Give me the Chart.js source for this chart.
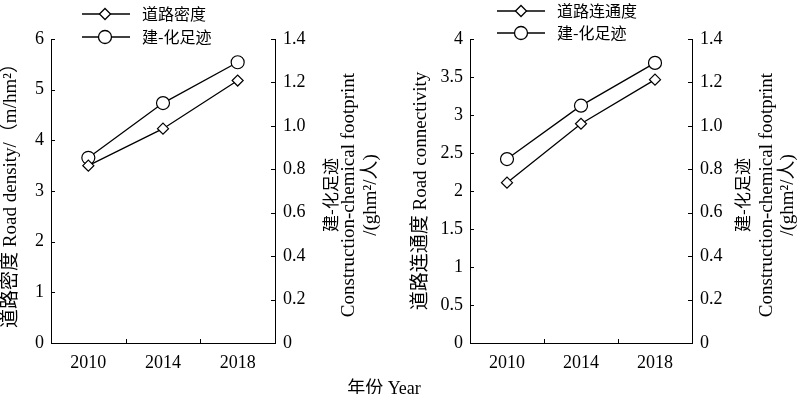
<!DOCTYPE html>
<html>
<head>
<meta charset="utf-8">
<script src="https://cdn.jsdelivr.net/npm/chart.js@4.4.1/dist/chart.umd.min.js"></script>
<style>
  html, body { margin: 0; padding: 0; background: #fff; }
  #wrap { position: relative; width: 800px; height: 394px; overflow: hidden; }
  .box { position: absolute; top: 0; width: 400px; height: 394px; }
  #xtitle {
    position: absolute; left: 0; width: 768px; top: 373px; text-align: center;
    font-family: 'Liberation Serif', 'Noto Sans CJK SC', serif; font-size: 18px; color: #000;
  }
</style>
</head>
<body>
<div id="wrap">
  <div class="box" style="left:0"><canvas id="c1" width="400" height="394"></canvas></div>
  <div class="box" style="left:400px"><canvas id="c2" width="400" height="394"></canvas></div>
  <div id="xtitle">年份 Year</div>
</div>
<script>
// data
const years = ['2010', '2014', '2018'];
const roadDensity = [3.50, 4.23, 5.18];        // m/hm2
const footprintLeft = [0.853, 1.105, 1.293];   // ghm2/人
const roadConnectivity = [2.11, 2.885, 3.465];
const footprintRight = [0.847, 1.093, 1.29];

const densityTicks = [0, 1, 2, 3, 4, 5, 6];
const connectTicks = [0, 0.5, 1, 1.5, 2, 2.5, 3, 3.5, 4];
const footprintTicks = [0, 0.2, 0.4, 0.6, 0.8, 1.0, 1.2, 1.4];

const SERIF = "'Liberation Serif', 'Noto Sans CJK SC', serif";
const CJK = "'Noto Sans CJK SC', sans-serif";

// inward ticks, legend and right-hand title drawn on top of the chart
const extras = {
    id: 'extras',
    afterDraw(chart, args, opts) {
        const {ctx, chartArea: a, scales} = chart;
        ctx.save();
        ctx.strokeStyle = '#000';
        ctx.lineWidth = 1;
        ctx.beginPath();
        scales.y.ticks.forEach(t => {
            const py = Math.round(scales.y.getPixelForValue(t.value)) + 0.5;
            ctx.moveTo(a.left, py); ctx.lineTo(a.left + 4, py);
        });
        scales.y1.ticks.forEach(t => {
            const py = Math.round(scales.y1.getPixelForValue(t.value)) + 0.5;
            ctx.moveTo(a.right - 4, py); ctx.lineTo(a.right, py);
        });
        for (let i = 0; i < years.length - 1; i++) {
            const px = Math.round((scales.x.getPixelForValue(i) + scales.x.getPixelForValue(i + 1)) / 2) + 0.5;
            ctx.moveTo(px, a.bottom); ctx.lineTo(px, a.bottom - 4);
        }
        ctx.stroke();

        // legend
        const lg = opts.legend;
        chart.data.datasets.forEach((ds, i) => {
            const y = lg.rows[i];
            ctx.beginPath();
            ctx.lineWidth = 1.3;
            ctx.moveTo(lg.x0, y); ctx.lineTo(lg.x1, y);
            ctx.stroke();
            ctx.fillStyle = '#fff';
            ctx.strokeStyle = '#000';
            Chart.helpers.drawPoint(ctx, {pointStyle: ds.pointStyle, radius: ds.pointRadius, borderWidth: 1.2}, lg.xm, y);
            ctx.fillStyle = '#000';
            ctx.font = '16px ' + CJK;
            ctx.textAlign = 'left';
            ctx.textBaseline = 'middle';
            ctx.fillText(ds.label, lg.xt, y);
        });

        // right axis title, three rotated lines
        const rt = opts.rightTitle;
        ctx.fillStyle = '#000';
        ctx.textAlign = 'center';
        ctx.textBaseline = 'middle';
        rt.lines.forEach((txt, i) => {
            ctx.save();
            ctx.translate(rt.xs[i], rt.y);
            ctx.rotate(-Math.PI / 2);
            ctx.font = (i === 0 ? '17px ' + CJK : '19px ' + SERIF);
            ctx.fillText(txt, 0, 0);
            ctx.restore();
        });
        ctx.restore();
    }
};

function makeChart(id, leftData, leftLabel, rightData, leftTitle, leftTicks, sizes, legend, rightTitle) {
    return new Chart(document.getElementById(id), {
        type: 'line',
        data: {
            labels: years,
            datasets: [{
                label: leftLabel,
                data: leftData,
                yAxisID: 'y',
                borderColor: '#000',
                borderWidth: 1.3,
                pointStyle: 'rectRot',
                pointRadius: 5.5,
                pointBackgroundColor: '#fff',
                pointBorderColor: '#000',
                pointBorderWidth: 1.2
            }, {
                label: '建-化足迹',
                data: rightData,
                yAxisID: 'y1',
                borderColor: '#000',
                borderWidth: 1.3,
                pointStyle: 'circle',
                pointRadius: 6.5,
                pointBackgroundColor: '#fff',
                pointBorderColor: '#000',
                pointBorderWidth: 1.2
            }]
        },
        options: {
            responsive: false,
            animation: false,
            devicePixelRatio: 1,
            layout: {padding: {top: sizes.top, left: 0, right: 0, bottom: 0}},
            plugins: {
                legend: {display: false},
                tooltip: {enabled: false},
                extras: {legend: legend, rightTitle: rightTitle}
            },
            scales: {
                x: {
                    offset: true,
                    grid: {display: false, drawTicks: false},
                    border: {display: true, color: '#000', width: 1},
                    ticks: {padding: 9, color: '#000', font: {family: SERIF, size: 18}},
                    afterFit: s => { s.height = sizes.bottom; }
                },
                y: {
                    position: 'left',
                    min: 0, max: leftTicks[leftTicks.length - 1],
                    afterBuildTicks: s => { s.ticks = leftTicks.map(v => ({value: v})); },
                    grid: {display: false, drawTicks: false},
                    border: {display: true, color: '#000', width: 1},
                    ticks: {padding: 7, color: '#000', font: {family: SERIF, size: 18}, callback: v => String(v)},
                    title: {display: true, text: leftTitle, color: '#000', font: {family: SERIF, size: 19}, padding: {top: sizes.titlePad, bottom: 0}},
                    afterFit: s => { s.width = sizes.left; }
                },
                y1: {
                    position: 'right',
                    min: 0, max: 1.4,
                    afterBuildTicks: s => { s.ticks = footprintTicks.map(v => ({value: v})); },
                    grid: {display: false, drawTicks: false},
                    border: {display: true, color: '#000', width: 1},
                    ticks: {padding: 8, color: '#000', font: {family: SERIF, size: 18},
                        callback: v => v === 0 ? '0' : v.toFixed(1)},
                    afterFit: s => { s.width = sizes.right; }
                }
            }
        },
        plugins: [extras]
    });
}

makeChart('c1', roadDensity, '道路密度', footprintLeft,
    '道路密度 Road density/（m/hm²）', densityTicks,
    {top: 39, bottom: 51, left: 51, right: 125, titlePad: 0},
    {rows: [14, 37], x0: 82, x1: 130, xm: 105, xt: 142},
    {lines: ['建-化足迹', 'Construction-chemical footprint', '/(ghm²/人)'], xs: [331, 349, 371], y: 195});

makeChart('c2', roadConnectivity, '道路连通度', footprintRight,
    '道路连通度 Road connectivity', connectTicks,
    {top: 39, bottom: 51, left: 70, right: 108, titlePad: 10},
    {rows: [11, 33], x0: 97, x1: 145, xm: 121, xt: 157},
    {lines: ['建-化足迹', 'Construction-chemical footprint', '/(ghm²/人)'], xs: [343, 367, 388], y: 195});
</script>
</body>
</html>
